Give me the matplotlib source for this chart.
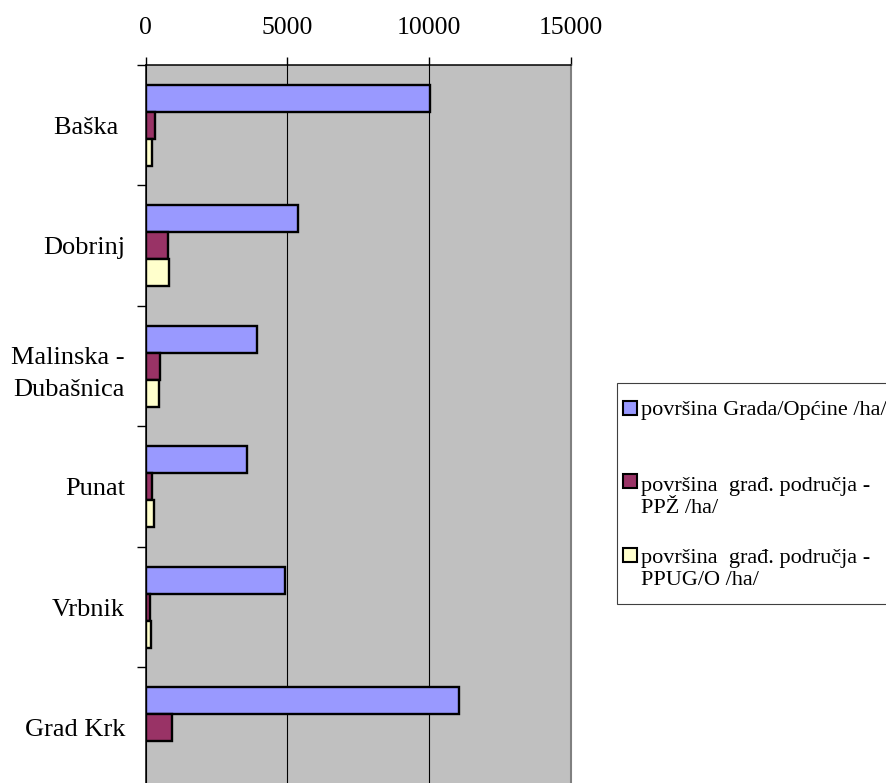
import matplotlib
matplotlib.use("Agg")
import matplotlib.pyplot as plt
import numpy as np
from matplotlib.patches import Rectangle

plt.rcParams['font.family'] = ['Liberation Serif', 'DejaVu Serif']

categories = ["Baška ", "Dobrinj", "Malinska -\nDubašnica", "Punat", "Vrbnik", "Grad Krk"]
povrsina_grada = [10040, 5390, 3920, 3565, 4930, 11050]
povrsina_ppz = [330, 776, 505, 233, 152, 940]
povrsina_ppugo = [233, 812, 470, 304, 176, np.nan]
series_labels = ["površina Grada/Općine /ha/",
                 "površina  građ. područja -\nPPŽ /ha/",
                 "površina  građ. područja -\nPPUG/O /ha/"]
colors = ["#9999FF", "#993366", "#FFFFCC"]
xticks = [0, 5000, 10000, 15000]

W, H = 886, 783
fig = plt.figure(figsize=(W / 100, H / 100), dpi=100)
ax = fig.add_axes([145.7 / W, 1 - 787.8 / H, (570.7 - 145.7) / W, (787.8 - 65) / H])
ax.set_facecolor("#C0C0C0")

n = len(categories)
centers = np.arange(n) + 0.5
bh = 0.224
series = [povrsina_grada, povrsina_ppz, povrsina_ppugo]
offsets = [-bh, 0, bh]
for vals, off, col in zip(series, offsets, colors):
    ax.barh(centers + off, vals, height=bh, color=col, edgecolor="black",
            linewidth=1.7, zorder=3)

ax.set_xlim(0, 15000)
ax.set_ylim(n, 0)
ax.xaxis.tick_top()
ax.set_xticks(xticks)
ax.set_xticklabels([str(t) for t in xticks], fontsize=18.5)
ax.tick_params(axis='x', which='major', direction='out', length=6, width=1,
               pad=13, color='black')
ax.set_yticks(np.arange(n + 1))
ax.set_yticklabels([])
ax.set_yticks(centers, minor=True)
ax.set_yticklabels(categories, minor=True, fontsize=19, linespacing=1.6)
ax.tick_params(axis='y', which='major', direction='out', length=6.5, width=1, color='black')
ax.tick_params(axis='y', which='minor', length=0, pad=14.9)

ax.grid(axis='x', color='black', linewidth=0.8)
ax.set_axisbelow(True)
for s in ['left', 'top']:
    ax.spines[s].set_color('black')
    ax.spines[s].set_linewidth(1.1)
ax.spines['right'].set_color('#808080')
ax.spines['right'].set_linewidth(1.5)
ax.spines['bottom'].set_visible(False)

# legend box
def fx(x):
    return x / W

def fy(y):
    return 1 - y / H

frame = Rectangle((fx(617.3), fy(604)), fx(910) - fx(617.3), fy(382.7) - fy(604),
                  transform=fig.transFigure, facecolor='white', edgecolor='#404040',
                  linewidth=0.8, zorder=5)
fig.add_artist(frame)
sq_tops = [400.7, 474.0, 548.0]
text_baselines = [415.0, 490.7, 562.7]
sq = 14.0
for lab, col, top, base in zip(series_labels, colors, sq_tops, text_baselines):
    fig.add_artist(Rectangle((fx(622.5), fy(top + sq)), sq / W, sq / H,
                             transform=fig.transFigure, facecolor=col,
                             edgecolor='black', linewidth=1.5, zorder=6))
    lines = lab.split("\n")
    for i, line in enumerate(lines):
        fig.text(fx(641), fy(base + i * 22.4), line, fontsize=16,
                 va='baseline', ha='left', zorder=7)

fig.savefig("out.png", dpi=100)
